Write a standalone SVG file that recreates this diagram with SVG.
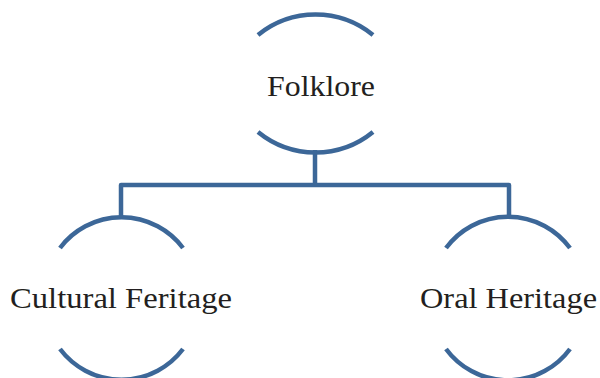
<svg xmlns="http://www.w3.org/2000/svg" width="600" height="378" viewBox="0 0 600 378">
<style>
.arc{fill:none;stroke:#3C6798;stroke-width:4.5}
.conn{fill:none;stroke:#3C6798;stroke-width:4.5;stroke-linejoin:round}
.lbl{font-family:"Liberation Serif","Times New Roman",serif;font-size:29px;fill:#231f20}
</style>
<rect width="600" height="378" fill="#ffffff"/>
<g id="connectors">
<path class="conn" d="M315 150 V185 M121 218 V185 H509 V218"/>
</g>
<g id="folklore">
<path class="arc" d="M258 35 A91 91 0 0 1 373 35"/>
<path class="arc" d="M258 132 A91 91 0 0 0 373 132"/>
<text class="lbl" x="267" y="96" textLength="108" lengthAdjust="spacingAndGlyphs">Folklore</text>
</g>
<g id="cultural">
<path class="arc" d="M60 248 A77 77 0 0 1 183 248"/>
<path class="arc" d="M60 349 A77 77 0 0 0 183 349"/>
<text class="lbl" x="10" y="308" textLength="222" lengthAdjust="spacingAndGlyphs">Cultural Feritage</text>
</g>
<g id="oral">
<path class="arc" d="M446 248 A77 77 0 0 1 570 248"/>
<path class="arc" d="M446 349 A77 77 0 0 0 570 349"/>
<text class="lbl" x="420" y="308" textLength="177" lengthAdjust="spacingAndGlyphs">Oral Heritage</text>
</g>
</svg>
